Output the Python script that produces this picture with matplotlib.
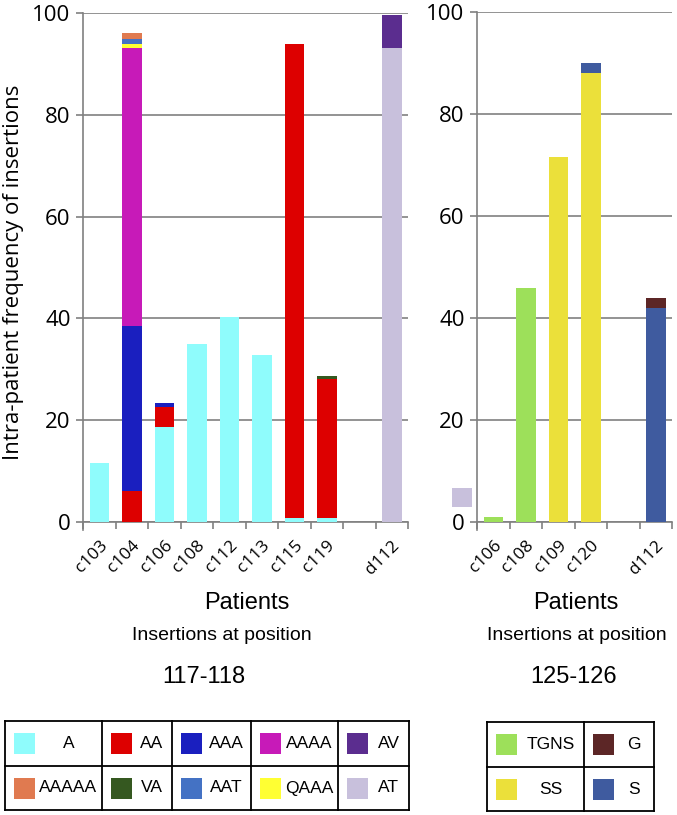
import matplotlib
matplotlib.use("Agg")
import matplotlib.pyplot as plt
from matplotlib.patches import Rectangle
from matplotlib.lines import Line2D
from matplotlib.ticker import FixedLocator, NullFormatter

# position 117-118
cats_left = ["c103", "c104", "c106", "c108", "c112", "c113", "c115", "c119", "", "d112"]
A     = [11.6, 0, 18.7, 35.0, 40.3, 32.8, 0.8, 0.7, 0, 0]
AA    = [0, 6.1, 3.9, 0, 0, 0, 93.1, 27.4, 0, 0]
AAA   = [0, 32.4, 0.8, 0, 0, 0, 0, 0, 0, 0]
AAAA  = [0, 54.6, 0, 0, 0, 0, 0, 0, 0, 0]
QAAA  = [0, 0.9, 0, 0, 0, 0, 0, 0, 0, 0]
AAT   = [0, 0.8, 0, 0, 0, 0, 0, 0, 0, 0]
AAAAA = [0, 1.3, 0, 0, 0, 0, 0, 0, 0, 0]
VA    = [0, 0, 0, 0, 0, 0, 0, 0.6, 0, 0]
AT    = [0, 0, 0, 0, 0, 0, 0, 0, 0, 93.1]
AV    = [0, 0, 0, 0, 0, 0, 0, 0, 0, 6.5]

# position 125-126
cats_right = ["c106", "c108", "c109", "c120", "", "d112"]
TGNS = [1.0, 45.9, 0, 0, 0, 0]
SS   = [0, 0, 71.6, 88.0, 0, 0]
S    = [0, 0, 0, 2.0, 0, 42.0]
G    = [0, 0, 0, 0, 0, 1.9]

colors = {
    "A": "#8ffcfc", "AA": "#dd0000", "AAA": "#1a1fbf", "AAAA": "#c71ab8",
    "AV": "#5b2d8f", "AAAAA": "#e07a50", "VA": "#355820", "AAT": "#4472c4",
    "QAAA": "#ffff33", "AT": "#c8c0dc",
    "TGNS": "#9de05a", "G": "#5c2626", "SS": "#ebe03a", "S": "#3f5b9f",
}

left_series = [("A", A), ("AA", AA), ("AAA", AAA), ("AAAA", AAAA), ("QAAA", QAAA),
               ("AAT", AAT), ("AAAAA", AAAAA), ("VA", VA), ("AT", AT), ("AV", AV)]
right_series = [("TGNS", TGNS), ("SS", SS), ("S", S), ("G", G)]

W, H = 677, 815
fig = plt.figure(figsize=(W / 100, H / 100), dpi=100)


def fx(px):
    return px / W


def fy(py):
    return 1 - py / H


GRAY = "#808080"
TICKFONT = "Open Sans"


def draw_panel(rect, cats, series):
    ax = fig.add_axes(rect)
    x = list(range(len(cats)))
    bottom = [0.0] * len(cats)
    for name, vals in series:
        ax.bar(x, vals, width=0.6, bottom=bottom, color=colors[name], linewidth=0, zorder=3)
        bottom = [b + v for b, v in zip(bottom, vals)]
    ax.set_xlim(-0.5, len(cats) - 0.5)
    ax.set_ylim(0, 100)
    ax.set_yticks([0, 20, 40, 60, 80, 100])
    ax.yaxis.grid(True, color=GRAY, linewidth=1.2, zorder=0)
    for s in ["top", "right"]:
        ax.spines[s].set_visible(False)
    for s in ["left", "bottom"]:
        ax.spines[s].set_color(GRAY)
        ax.spines[s].set_linewidth(1.2)
    ax.spines["left"].set_bounds(-1.5, 100)
    ax.tick_params(axis="y", length=5, width=1.2, color=GRAY, pad=4, labelsize=16)
    for lab in ax.get_yticklabels():
        lab.set_fontfamily(TICKFONT)
    ax.set_xticks(x)
    ax.set_xticklabels(cats, rotation=45, ha="right", va="top",
                       rotation_mode="anchor", fontsize=12.5, fontfamily=TICKFONT)
    ax.tick_params(axis="x", which="major", length=0, pad=11)
    ax.xaxis.set_minor_locator(FixedLocator([i - 0.5 for i in range(len(cats) + 1)]))
    ax.xaxis.set_minor_formatter(NullFormatter())
    ax.tick_params(axis="x", which="minor", length=5, width=1.2, color=GRAY)
    return ax


axl = draw_panel([fx(83), fy(522), fx(408) - fx(83), fy(13) - fy(522)], cats_left, left_series)
axr = draw_panel([fx(477), fy(522), fx(672) - fx(477), fy(12) - fy(522)], cats_right, right_series)

fig.text(fx(14), fy(272), "Intra-patient frequency of insertions", rotation=90,
         ha="center", va="center", fontsize=16, fontfamily=TICKFONT)

# stray swatch left of the right axis
fig.patches.append(Rectangle((fx(452), fy(507)), fx(20), 19 / H, transform=fig.transFigure,
                             color=colors["AT"], linewidth=0))

TXT = "Liberation Sans"
fig.text(fx(247), fy(603), "Patients", ha="center", va="center", fontsize=17, fontfamily=TXT)
fig.text(fx(576), fy(603), "Patients", ha="center", va="center", fontsize=17, fontfamily=TXT)
fig.text(fx(222), fy(636), "Insertions at position", ha="center", va="center", fontsize=14, fontfamily=TXT)
fig.text(fx(577), fy(636), "Insertions at position", ha="center", va="center", fontsize=14, fontfamily=TXT)
fig.text(fx(204), fy(677), "117-118", ha="center", va="center", fontsize=17, fontfamily=TXT)
fig.text(fx(574), fy(677), "125-126", ha="center", va="center", fontsize=17, fontfamily=TXT)


def draw_table(xs, ys, rows):
    for xv in xs:
        fig.add_artist(Line2D([fx(xv), fx(xv)], [fy(ys[0]), fy(ys[-1])], color="black", linewidth=1.3))
    for yv in ys:
        fig.add_artist(Line2D([fx(xs[0]), fx(xs[-1])], [fy(yv), fy(yv)], color="black", linewidth=1.3))
    for r, row in enumerate(rows):
        y0, y1 = ys[r], ys[r + 1]
        yc = (y0 + y1) / 2
        for c, name in enumerate(row):
            x0, x1 = xs[c], xs[c + 1]
            sw0 = x0 + 9
            fig.patches.append(Rectangle((fx(sw0), fy(yc + 10.5)), fx(21), 21 / H,
                                         transform=fig.transFigure, color=colors[name], linewidth=0))
            fig.text(fx((sw0 + 21 + x1) / 2), fy(yc), name, ha="center", va="center",
                     fontsize=12.5, fontfamily=TXT)


draw_table([5, 102, 172, 251, 338, 409], [721, 766, 810],
           [["A", "AA", "AAA", "AAAA", "AV"], ["AAAAA", "VA", "AAT", "QAAA", "AT"]])
draw_table([487, 584, 654], [722, 767, 811], [["TGNS", "G"], ["SS", "S"]])

fig.savefig("out.png", dpi=100)
